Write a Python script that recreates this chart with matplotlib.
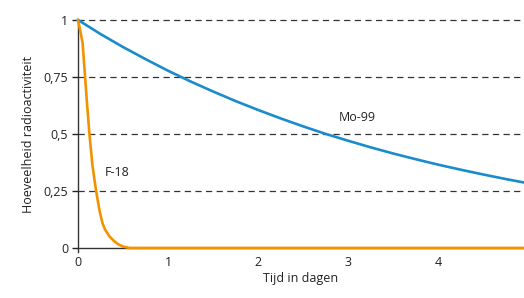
import matplotlib.pyplot as plt
from matplotlib.ticker import FuncFormatter

plt.rcParams['font.family'] = ['Open Sans', 'DejaVu Sans']

# Mo-99
t_mo = [0, 0.25, 0.5, 0.75, 1, 1.25, 1.5, 1.75, 2, 2.25, 2.5, 2.75,
        3, 3.25, 3.5, 3.75, 4, 4.25, 4.5, 4.75, 4.95]
y_mo = [1, 0.938, 0.881, 0.828, 0.777, 0.730, 0.686, 0.644, 0.605, 0.568,
        0.533, 0.500, 0.470, 0.441, 0.414, 0.389, 0.365, 0.343, 0.322, 0.302, 0.287]

# F-18
t_f = [0, 0.05, 0.1, 0.126, 0.16, 0.2, 0.24, 0.27, 0.3, 0.35, 0.4, 0.45, 0.5, 0.57, 4.95]
y_f = [1, 0.9, 0.63, 0.5, 0.36, 0.25, 0.16, 0.11, 0.08, 0.05, 0.03, 0.015, 0.006, 0, 0]

yticks = [0, 0.25, 0.5, 0.75, 1]
xticks = [0, 1, 2, 3, 4]

fig = plt.figure(figsize=(5.24, 2.98), dpi=100)
ax = fig.add_axes([0.149, 0.168, 0.851, 0.765])

for y in yticks[1:]:
    ax.axhline(y, color='#333333', lw=0.9, ls=(0, (5, 3.5)), zorder=1, clip_on=False)

ax.plot(t_mo, y_mo, color='#1a8ccc', lw=1.9, clip_on=False, zorder=3)
ax.plot(t_f, y_f, color='#f39200', lw=1.9, clip_on=False, zorder=3)

ax.text(2.89, 0.57, 'Mo-99', fontsize=9, color='#222222', va='center')
ax.text(0.3, 0.33, 'F-18', fontsize=9, color='#222222', va='center')

ax.set_xlim(0, 4.95)
ax.set_ylim(0, 1)
ax.set_xticks(xticks)
ax.set_yticks(yticks)
ax.yaxis.set_major_formatter(FuncFormatter(lambda v, p: ('%g' % v).replace('.', ',')))
ax.tick_params(axis='x', length=0, pad=6, labelsize=9, colors='#222222')
ax.tick_params(axis='y', length=4, width=1, pad=3, labelsize=9, colors='#222222')

for s in ['top', 'right']:
    ax.spines[s].set_visible(False)
for s in ['left', 'bottom']:
    ax.spines[s].set_color('#333333')
    ax.spines[s].set_linewidth(1)
ax.spines['left'].set_bounds(-0.02, 1)

ax.set_xlabel('Tijd in dagen', fontsize=9, color='#222222', labelpad=2)
ax.set_ylabel('Hoeveelheid radioactiviteit', fontsize=9, color='#222222', labelpad=6)

fig.savefig('out.png', dpi=100)
